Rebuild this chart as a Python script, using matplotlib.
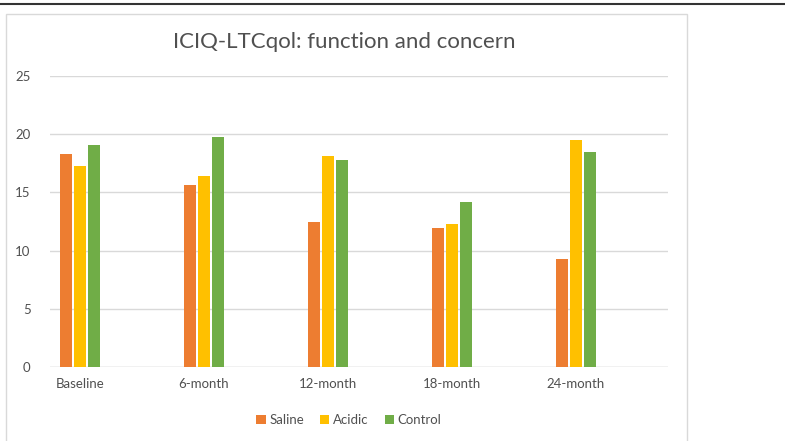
import numpy as np
import matplotlib.pyplot as plt
from matplotlib.patches import Patch, Rectangle
from matplotlib.lines import Line2D

# data
categories = ['Baseline', '6-month', '12-month', '18-month', '24-month']
saline  = [18.3, 15.6, 12.5, 11.9, 9.3]
acidic  = [17.3, 16.4, 18.1, 12.3, 19.5]
control = [19.1, 19.8, 17.8, 14.2, 18.5]
series_names = ['Saline', 'Acidic', 'Control']
colors = ['#ED7D31', '#FFC000', '#70AD47']

plt.rcParams['font.family'] = ['Lato', 'DejaVu Sans']

W, H = 785, 441
fig = plt.figure(figsize=(W/100, H/100), dpi=100)
fig.patch.set_facecolor('white')

# outer frame: dark rule on top, light chart box
fig.add_artist(Line2D([0, 1], [1 - 4/H, 1 - 4/H], color='#333333', lw=1.5))
fig.add_artist(Rectangle((6/W, -0.05), (687-6)/W, 1.05 - 14/H, fill=False,
                         edgecolor='#D9D9D9', lw=1.0))

ax = fig.add_axes([50/W, 74/H, (668-50)/W, (367-76)/H])
x = np.arange(len(categories))
width = 0.093
step = 0.111
for i, (vals, name, c) in enumerate(zip([saline, acidic, control], series_names, colors)):
    ax.bar(x + (i-1)*step, vals, width, color=c, label=name, zorder=3)

ax.set_xlim(-0.242, 4.742)
ax.set_ylim(0, 25)
ax.set_yticks([0, 5, 10, 15, 20, 25])
ax.yaxis.grid(True, color='#D9D9D9', lw=1.0, zorder=0)
for s in ax.spines.values():
    s.set_visible(False)
ax.axhline(0, color='#D9D9D9', lw=1.0, zorder=2)
ax.tick_params(axis='both', length=0, labelsize=9.5, colors='#505050')
ax.tick_params(axis='y', pad=14)
ax.tick_params(axis='x', pad=8)
ax.set_xticks(x)
ax.set_xticklabels(categories)

fig.text(344/W, 1 - 42/H, 'ICIQ-LTCqol: function and concern', ha='center', va='center',
         fontsize=16, color='#505050')

handles = [Patch(facecolor=c, label=n) for c, n in zip(colors, series_names)]
fig.legend(handles=handles, loc='center', bbox_to_anchor=(349/W, 1 - 420/H), ncol=3,
           frameon=False, fontsize=9.5, handlelength=0.7, handleheight=0.7,
           handletextpad=0.3, columnspacing=1.2, labelcolor='#505050')

fig.savefig('out.png', dpi=100)
